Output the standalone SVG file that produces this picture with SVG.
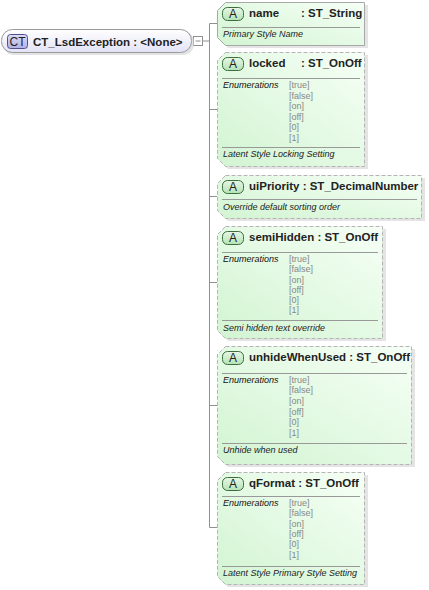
<svg xmlns="http://www.w3.org/2000/svg" width="429" height="590" viewBox="0 0 429 590">
<defs>
<linearGradient id="gRoot" x1="0" y1="0" x2="0" y2="1">
<stop offset="0" stop-color="#ffffff"/>
<stop offset="1" stop-color="#e2e2f6"/>
</linearGradient>
<linearGradient id="gAttr" x1="0" y1="1" x2="1" y2="0">
<stop offset="0" stop-color="#d2f4d2"/>
<stop offset="1" stop-color="#f6fff6"/>
</linearGradient>
<linearGradient id="gBadgeA" x1="0" y1="0" x2="0" y2="1">
<stop offset="0" stop-color="#e6f8e6"/>
<stop offset="1" stop-color="#b6e2b6"/>
</linearGradient>
<linearGradient id="gBadgeCT" x1="0" y1="0" x2="0" y2="1">
<stop offset="0" stop-color="#dcdcf8"/>
<stop offset="1" stop-color="#b0b0e4"/>
</linearGradient>
</defs>
<style>
.shadow{fill:#d8d8d8;opacity:0.7}
.node{fill:url(#gAttr);stroke:#a8a8a8;stroke-width:1}
.opt{stroke-dasharray:4,2;stroke:#b4b4b4}
.sep{stroke:#999999;stroke-width:1}
.badge{fill:url(#gBadgeA);stroke:#3c6e3c;stroke-width:1}
.bt{font-family:"Liberation Sans",Arial,sans-serif;font-size:12px;fill:#222;text-anchor:middle}
.hd{font-family:"Liberation Sans",Arial,sans-serif;font-size:11.5px;font-weight:bold;fill:#222}
.en{font-family:"Liberation Sans",Arial,sans-serif;font-size:9px;font-style:italic;fill:#111}
.ev{font-family:"Liberation Sans",Arial,sans-serif;font-size:9px;fill:#888}
.ds{font-family:"Liberation Sans",Arial,sans-serif;font-size:9px;font-style:italic;fill:#222}
.conn{stroke:#909090;stroke-width:1;fill:none}
</style>

<g id="connectors">
<rect x="193.5" y="36.5" width="9" height="9" fill="#ffffff" stroke="#909090"/>
<line x1="195.5" y1="41" x2="200.5" y2="41" stroke="#909090"/>
<path class="conn" d="M202.5 41H209.5M209.5 23.5V527.5M209.5 23.5H217M209.5 109.5H217M209.5 196.5H217M209.5 282.5H217M209.5 405.5H217M209.5 527.5H217"/>
</g>

<g id="root">
<rect x="3" y="31" width="191" height="24" rx="11" fill="#d0d0d0" opacity="0.6"/>
<rect x="1.5" y="29.5" width="190" height="23" rx="11" fill="url(#gRoot)" stroke="#9a9a9a"/>
<rect x="7.5" y="34.5" width="20" height="14" rx="3" fill="url(#gBadgeCT)" stroke="#50508c"/>
<text x="17.5" y="46" class="bt">CT</text>
<text x="33" y="46" class="hd">CT_LsdException : &lt;None&gt;</text>
</g>

<g id="name">
<path class="shadow" d="M228 5H368V48H228L220 40V13Z"/>
<path class="node" d="M225.5 2.5H364.5V45.5H225.5L217.5 37.5V10.5Z"/>
<rect x="222.5" y="7.5" width="21" height="13" rx="5" class="badge"/>
<text x="233" y="18" class="bt">A</text>
<text x="249" y="17" class="hd">name</text>
<text x="301" y="17" class="hd">: ST_String</text>
<line x1="222" y1="27.5" x2="360" y2="27.5" class="sep"/>
<text x="223" y="37" class="ds">Primary Style Name</text>
</g>

<g id="locked">
<path class="shadow" d="M228 55H368V169H228L220 161V63Z"/>
<path class="node opt" d="M225.5 52.5H364.5V166.5H225.5L217.5 158.5V60.5Z"/>
<rect x="222.5" y="57.5" width="21" height="13" rx="5" class="badge"/>
<text x="233" y="68" class="bt">A</text>
<text x="249" y="67" class="hd">locked</text>
<text x="301" y="67" class="hd">: ST_OnOff</text>
<line x1="222" y1="78.5" x2="360" y2="78.5" class="sep"/>
<text x="223" y="88" class="en">Enumerations</text>
<text x="289" y="88" class="ev">[true]</text>
<text x="289" y="98.5" class="ev">[false]</text>
<text x="289" y="109" class="ev">[on]</text>
<text x="289" y="119.5" class="ev">[off]</text>
<text x="289" y="130" class="ev">[0]</text>
<text x="289" y="140.5" class="ev">[1]</text>
<line x1="222" y1="147.5" x2="360" y2="147.5" class="sep"/>
<text x="223" y="157" class="ds">Latent Style Locking Setting</text>
</g>

<g id="uiPriority">
<path class="shadow" d="M228 178H425V221H228L220 213V186Z"/>
<path class="node opt" d="M225.5 175.5H421.5V218.5H225.5L217.5 210.5V183.5Z"/>
<rect x="222.5" y="180.5" width="21" height="13" rx="5" class="badge"/>
<text x="233" y="191" class="bt">A</text>
<text x="249" y="190" class="hd">uiPriority : ST_DecimalNumber</text>
<line x1="222" y1="199.5" x2="417" y2="199.5" class="sep"/>
<text x="223" y="210" class="ds">Override default sorting order</text>
</g>

<g id="semiHidden">
<path class="shadow" d="M228 229H386V341H228L220 333V237Z"/>
<path class="node opt" d="M225.5 226.5H382.5V338.5H225.5L217.5 330.5V234.5Z"/>
<rect x="222.5" y="231.5" width="21" height="13" rx="5" class="badge"/>
<text x="233" y="242" class="bt">A</text>
<text x="249" y="241" class="hd">semiHidden : ST_OnOff</text>
<line x1="222" y1="252.5" x2="378" y2="252.5" class="sep"/>
<text x="223" y="262" class="en">Enumerations</text>
<text x="289" y="262" class="ev">[true]</text>
<text x="289" y="272" class="ev">[false]</text>
<text x="289" y="282.5" class="ev">[on]</text>
<text x="289" y="293" class="ev">[off]</text>
<text x="289" y="303" class="ev">[0]</text>
<text x="289" y="313" class="ev">[1]</text>
<line x1="222" y1="320.5" x2="378" y2="320.5" class="sep"/>
<text x="223" y="331" class="ds">Semi hidden text override</text>
</g>

<g id="unhideWhenUsed">
<path class="shadow" d="M228 349H415V467H228L220 459V357Z"/>
<path class="node opt" d="M225.5 346.5H411.5V464.5H225.5L217.5 456.5V354.5Z"/>
<rect x="222.5" y="351.5" width="21" height="13" rx="5" class="badge"/>
<text x="233" y="362" class="bt">A</text>
<text x="249" y="361" class="hd">unhideWhenUsed : ST_OnOff</text>
<line x1="222" y1="373.5" x2="407" y2="373.5" class="sep"/>
<text x="223" y="383" class="en">Enumerations</text>
<text x="289" y="383" class="ev">[true]</text>
<text x="289" y="393" class="ev">[false]</text>
<text x="289" y="404" class="ev">[on]</text>
<text x="289" y="414.5" class="ev">[off]</text>
<text x="289" y="425" class="ev">[0]</text>
<text x="289" y="435.5" class="ev">[1]</text>
<line x1="222" y1="443.5" x2="407" y2="443.5" class="sep"/>
<text x="223" y="453" class="ds">Unhide when used</text>
</g>

<g id="qFormat">
<path class="shadow" d="M228 475H368V587H228L220 579V483Z"/>
<path class="node opt" d="M225.5 472.5H364.5V584.5H225.5L217.5 576.5V480.5Z"/>
<rect x="222.5" y="477.5" width="21" height="13" rx="5" class="badge"/>
<text x="233" y="488" class="bt">A</text>
<text x="249" y="487" class="hd">qFormat : ST_OnOff</text>
<line x1="222" y1="496.5" x2="360" y2="496.5" class="sep"/>
<text x="223" y="506" class="en">Enumerations</text>
<text x="289" y="506" class="ev">[true]</text>
<text x="289" y="516" class="ev">[false]</text>
<text x="289" y="526.5" class="ev">[on]</text>
<text x="289" y="537" class="ev">[off]</text>
<text x="289" y="547" class="ev">[0]</text>
<text x="289" y="557.5" class="ev">[1]</text>
<line x1="222" y1="566.5" x2="360" y2="566.5" class="sep"/>
<text x="223" y="576" class="ds">Latent Style Primary Style Setting</text>
</g>
</svg>
